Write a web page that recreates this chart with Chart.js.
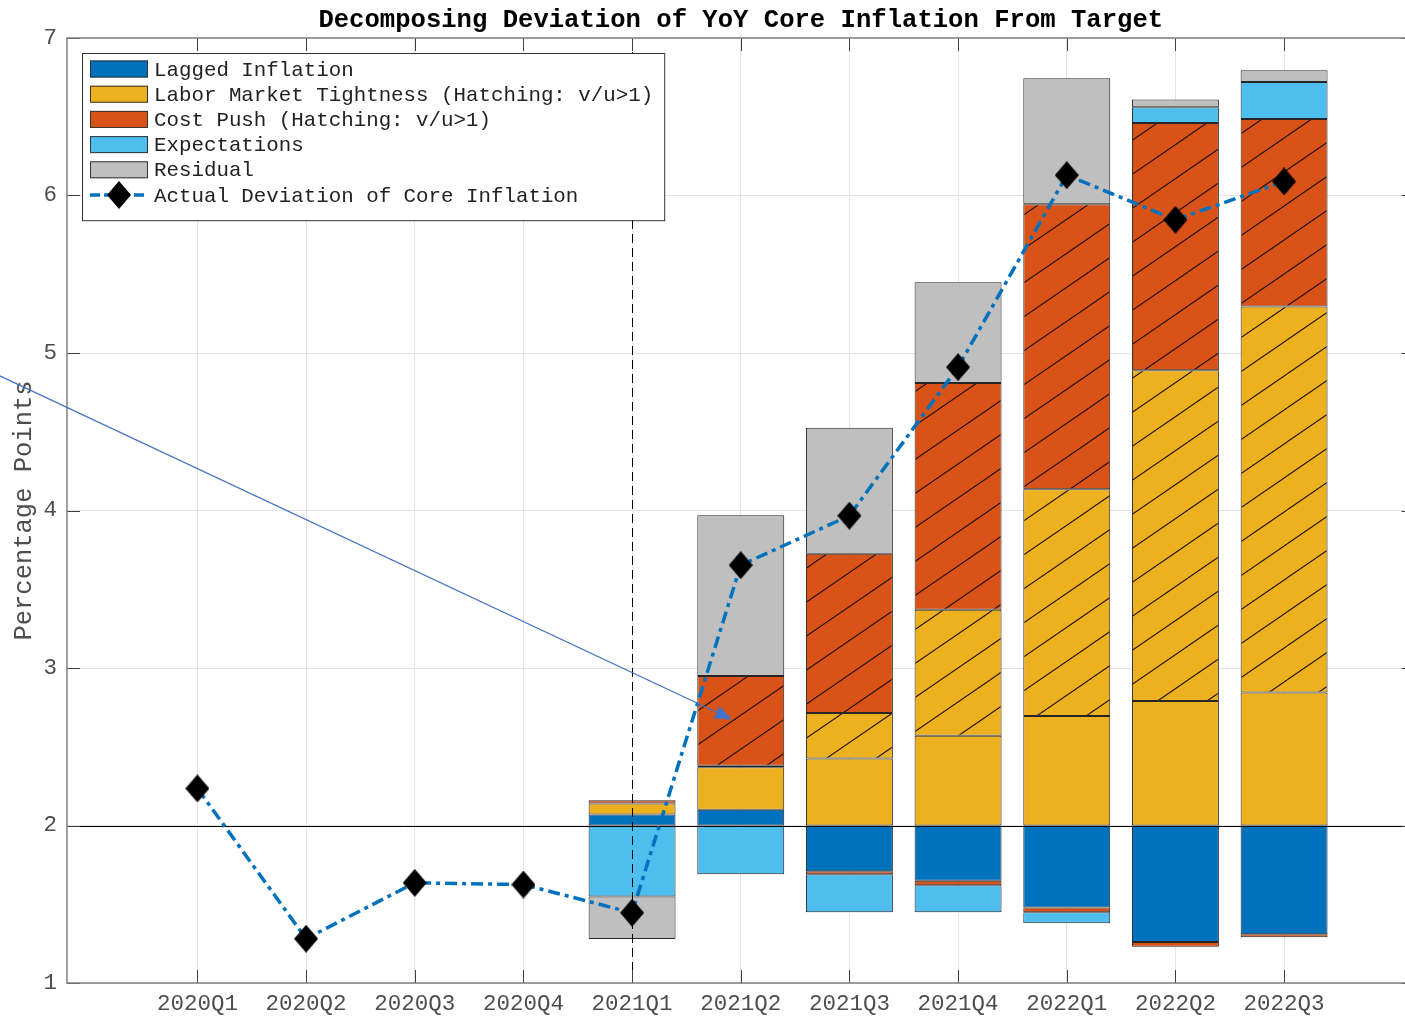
<!DOCTYPE html>
<html>
<head>
<meta charset="utf-8">
<script src="https://cdn.jsdelivr.net/npm/chart.js@4/dist/chart.umd.min.js"></script>
<style>
  html, body { margin: 0; padding: 0; background: #fff; overflow: hidden; }
  #wrap { width: 1430px; height: 1018px; }
</style>
</head>
<body>
<div id="wrap"><canvas id="decomp" width="1430" height="1018"></canvas></div>
<script>
// Decomposition of the deviation of YoY core inflation from target

const quarters = ['2020Q1', '2020Q2', '2020Q3', '2020Q4', '2021Q1', '2021Q2',
  '2021Q3', '2021Q4', '2022Q1', '2022Q2', '2022Q3']
const target = 2
const yTicks = [1, 2, 3, 4, 5, 6, 7]

// contributions, percentage points (null = no decomposition for that quarter)
const lagged = [null, null, null, null, 0.07, 0.10, -0.29, -0.35, -0.52, -0.74, -0.69]
const laborPlain = [null, null, null, null, 0.07, 0.27, 0.425, 0.57, 0.695, 0.79, 0.845]
const laborHatched = [null, null, null, null, 0, 0, 0.29, 0.80, 1.44, 2.10, 2.45]
const costPlain = [null, null, null, null, 0.02, 0.01, -0.02, -0.03, -0.03, -0.03, -0.02]
const costHatched = [null, null, null, null, 0, 0.57, 1.01, 1.44, 1.81, 1.57, 1.19]
const expectations = [null, null, null, null, -0.45, -0.31, -0.24, -0.17, -0.07, 0.10, 0.235]
const residual = [null, null, null, null, -0.27, 1.02, 0.80, 0.64, 0.80, 0.05, 0.075]

const actualDeviation = [2.235, 1.281, 1.636, 1.625, 1.446, 3.653, 3.967, 4.910, 6.129, 5.846, 6.089]

// annotation arrow, in axis units
const arrowFrom = { x: -0.85, y: 4.865 }
const arrowTo = { x: 5.92, y: 2.673 }

const mono = "'Liberation Mono', 'Courier New', monospace"
const canvas = document.getElementById('decomp')
const ctx0 = canvas.getContext('2d')

function hatch(color) {
  const W = 99, H = 34
  const c = document.createElement('canvas')
  c.width = W
  c.height = H
  const g = c.getContext('2d')
  g.fillStyle = color
  g.fillRect(0, 0, W, H)
  g.strokeStyle = 'rgba(20,10,0,0.95)'
  g.lineWidth = 1.1
  for (let n = -1; n <= 3; n++) {
    g.beginPath()
    g.moveTo(0, n * H)
    g.lineTo(W, n * H - 2 * H)
    g.stroke()
  }
  return ctx0.createPattern(c, 'repeat')
}

function diamond(w, h) {
  const c = document.createElement('canvas')
  c.width = w
  c.height = h
  const g = c.getContext('2d')
  g.fillStyle = '#000'
  g.beginPath()
  g.moveTo(w / 2, 0)
  g.lineTo(w, h / 2)
  g.lineTo(w / 2, h)
  g.lineTo(0, h / 2)
  g.closePath()
  g.fill()
  return c
}
const marker = diamond(24, 28)

const components = [
  { label: 'Lagged Inflation', values: lagged, color: '#0072BD' },
  { label: 'Labor Market Tightness (Hatching: v/u>1)', values: laborPlain, color: '#EDB120' },
  { label: 'Labor Market Tightness (Hatching: v/u>1)', values: laborHatched, color: '#EDB120', hatched: true },
  { label: 'Cost Push (Hatching: v/u>1)', values: costPlain, color: '#D95319' },
  { label: 'Cost Push (Hatching: v/u>1)', values: costHatched, color: '#D95319', hatched: true },
  { label: 'Expectations', values: expectations, color: '#4DBEEE' },
  { label: 'Residual', values: residual, color: '#BFBFBF' },
]

// stack positives upward and negatives downward from the target
const up = quarters.map(() => target)
const down = quarters.map(() => target)
const barSets = components.map(comp => {
  const pts = []
  comp.values.forEach((v, i) => {
    if (v === null || v === 0) return
    if (v > 0) {
      pts.push({ x: i + 1, y: [up[i], up[i] + v] })
      up[i] += v
    } else {
      pts.push({ x: i + 1, y: [down[i] + v, down[i]] })
      down[i] += v
    }
  })
  return {
    type: 'bar',
    label: comp.label,
    data: pts,
    swatch: comp.color,
    inLegend: !comp.hatched,
    backgroundColor: comp.hatched ? hatch(comp.color) : comp.color,
    borderColor: '#262626',
    borderWidth: 1,
    borderSkipped: false,
    grouped: false,
    categoryPercentage: 0.8,
    barPercentage: 1.0,
    order: 1,
  }
})

const lineSet = {
  type: 'line',
  label: 'Actual Deviation of Core Inflation',
  data: actualDeviation.map((v, i) => ({ x: i + 1, y: v })),
  inLegend: true,
  borderColor: '#0072BD',
  borderWidth: 3.5,
  borderDash: [12, 5, 4, 5],
  pointStyle: marker,
  pointRadius: 12,
  tension: 0,
  order: 0,
}

// target line and the 2021Q1 divider, under the actual series
const refLines = {
  id: 'refLines',
  beforeDatasetDraw(chart, args) {
    if (chart.data.datasets[args.index].type !== 'line') return
    const { ctx, chartArea: a, scales: { x, y } } = chart
    ctx.save()
    ctx.strokeStyle = '#000'
    ctx.lineWidth = 1
    const yT = Math.round(y.getPixelForValue(target)) + 0.5
    ctx.beginPath()
    ctx.moveTo(a.left, yT)
    ctx.lineTo(a.right, yT)
    ctx.stroke()
    const xV = Math.round(x.getPixelForValue(quarters.indexOf('2021Q1') + 1)) + 0.5
    ctx.setLineDash([9, 5])
    ctx.beginPath()
    ctx.moveTo(xV, a.top)
    ctx.lineTo(xV, a.bottom)
    ctx.stroke()
    ctx.restore()
  },
}

// axes box with inward ticks, title, boxed legend, arrow
const decor = {
  id: 'decor',
  afterDraw(chart) {
    const { ctx, chartArea: a, scales: { x, y } } = chart
    ctx.save()

    // inward tick marks on all four sides
    ctx.strokeStyle = '#404040'
    ctx.lineWidth = 1
    const tl = 13
    x.ticks.forEach(t => {
      const px = Math.round(x.getPixelForValue(t.value)) + 0.5
      ctx.beginPath()
      ctx.moveTo(px, a.bottom); ctx.lineTo(px, a.bottom - tl)
      ctx.moveTo(px, a.top); ctx.lineTo(px, a.top + tl)
      ctx.stroke()
    })
    y.ticks.forEach(t => {
      const py = Math.round(y.getPixelForValue(t.value)) + 0.5
      ctx.beginPath()
      ctx.moveTo(a.left, py); ctx.lineTo(a.left + tl, py)
      ctx.moveTo(a.right, py); ctx.lineTo(a.right - tl, py)
      ctx.stroke()
    })
    ctx.strokeStyle = '#808080'
    ctx.lineWidth = 1.5
    ctx.strokeRect(a.left, a.top, a.right - a.left, a.bottom - a.top)

    // title centred over the plot
    ctx.fillStyle = '#000'
    ctx.font = 'bold 25.6px ' + mono
    ctx.textAlign = 'center'
    ctx.textBaseline = 'middle'
    ctx.fillText('Decomposing Deviation of YoY Core Inflation From Target', (a.left + a.right) / 2, 21)

    // legend
    const items = chart.data.datasets.filter(d => d.inLegend)
    ctx.font = '20.8px ' + mono
    ctx.textAlign = 'left'
    const textW = Math.max(...items.map(d => ctx.measureText(d.label).width))
    const bx = a.left + 15, by = a.top + 15
    const rowH = 25.2
    const bw = 72 + textW + 11, bh = 16 + items.length * rowH
    ctx.fillStyle = '#fff'
    ctx.fillRect(bx, by, bw, bh)
    ctx.strokeStyle = '#333'
    ctx.lineWidth = 1
    ctx.strokeRect(bx + 0.5, by + 0.5, bw, bh)
    items.forEach((d, i) => {
      const cy = by + 16 + i * rowH
      if (d.type === 'line') {
        ctx.save()
        ctx.strokeStyle = d.borderColor
        ctx.lineWidth = d.borderWidth
        ctx.setLineDash([10, 4, 4, 4])
        ctx.beginPath()
        ctx.moveTo(bx + 8, cy)
        ctx.lineTo(bx + 66, cy)
        ctx.stroke()
        ctx.restore()
        ctx.drawImage(marker, bx + 37 - 12, cy - 14)
      } else {
        ctx.fillStyle = d.swatch
        ctx.fillRect(bx + 8, cy - 8.5, 58, 17)
        ctx.strokeStyle = '#333'
        ctx.strokeRect(bx + 8.5, cy - 8, 57, 16)
      }
      ctx.fillStyle = '#222'
      ctx.textBaseline = 'middle'
      ctx.fillText(d.label, bx + 72, cy + 1)
    })

    // arrow annotation
    const x0 = x.getPixelForValue(arrowFrom.x), y0 = y.getPixelForValue(arrowFrom.y)
    const x1 = x.getPixelForValue(arrowTo.x), y1 = y.getPixelForValue(arrowTo.y)
    const ang = Math.atan2(y1 - y0, x1 - x0)
    const hl = 17, hw = 7
    const bxA = x1 - hl * Math.cos(ang), byA = y1 - hl * Math.sin(ang)
    ctx.strokeStyle = '#4472C4'
    ctx.fillStyle = '#4472C4'
    ctx.lineWidth = 1.3
    ctx.beginPath()
    ctx.moveTo(x0, y0)
    ctx.lineTo(bxA, byA)
    ctx.stroke()
    ctx.beginPath()
    ctx.moveTo(x1, y1)
    ctx.lineTo(bxA + hw * Math.sin(ang), byA - hw * Math.cos(ang))
    ctx.lineTo(bxA - hw * Math.sin(ang), byA + hw * Math.cos(ang))
    ctx.closePath()
    ctx.fill()
    ctx.restore()
  },
}

const config = {
  type: 'bar',
  data: { datasets: [...barSets, lineSet] },
  options: {
    responsive: false,
    animation: false,
    devicePixelRatio: 1,
    layout: { padding: { top: 38, right: 12, left: 0, bottom: 0 } },
    plugins: {
      legend: { display: false },
      title: { display: false },
      tooltip: { enabled: false },
    },
    scales: {
      x: {
        type: 'linear',
        min: -0.2,
        max: 12.2,
        offset: false,
        afterBuildTicks: s => { s.ticks = quarters.map((q, i) => ({ value: i + 1 })) },
        afterFit: s => { s.height = 35 },
        grid: { color: '#e4e4e4', drawTicks: false, offset: false },
        border: { display: false },
        ticks: {
          callback: v => quarters[v - 1],
          font: { family: mono, size: 22.5 },
          color: '#4d4d4d',
          padding: 8,
          maxRotation: 0,
          autoSkip: false,
        },
      },
      y: {
        min: 1,
        max: 7,
        afterBuildTicks: s => { s.ticks = yTicks.map(v => ({ value: v })) },
        afterFit: s => { s.width = 67 },
        grid: { color: '#e4e4e4', drawTicks: false },
        border: { display: false },
        ticks: { font: { family: mono, size: 22.5 }, color: '#4d4d4d', padding: 10 },
        title: {
          display: true,
          text: 'Percentage Points',
          font: { family: mono, size: 25.5 },
          color: '#4d4d4d',
          padding: { top: 9, bottom: 0 },
        },
      },
    },
  },
  plugins: [refLines, decor],
}

const decompChart = new Chart(canvas, config)
</script>
</body>
</html>
